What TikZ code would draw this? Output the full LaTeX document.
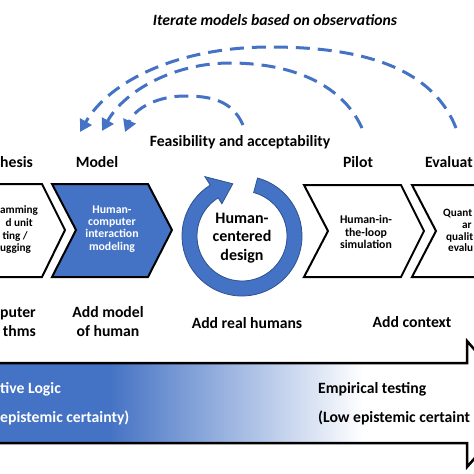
\documentclass[tikz,border=0pt]{standalone}
\usepackage{fontspec}
\setmainfont{Carlito}
\usetikzlibrary{arrows.meta,calc}
\definecolor{obl}{HTML}{4472C4}
\definecolor{obd}{HTML}{2F528F}
\pgfdeclarehorizontalshading{epi}{100bp}{color(0bp)=(obl); color(37bp)=(obl); color(64bp)=(white); color(100bp)=(white)}
\begin{document}
\begin{tikzpicture}[x=1pt,y=-1pt,
  lbl/.style={font=\fontsize{15.7}{19}\selectfont\bfseries, inner sep=0pt, text height=10.1pt, text depth=0pt},
  lbl2/.style={font=\fontsize{15.7}{19}\selectfont\bfseries, inner sep=0pt, align=center},
  small/.style={font=\fontsize{11.8}{12.2}\selectfont\bfseries, inner sep=0pt, align=center},
  smallone/.style={font=\fontsize{11.2}{12.2}\selectfont\bfseries, inner sep=0pt, text height=7pt, text depth=0pt},
  chev/.style={draw=black, line width=2pt, line join=miter},
  iter/.style={draw=obl, line width=3pt, dash pattern=on 14pt off 8pt, -{Triangle[length=12pt,width=13pt]}},
]
\useasboundingbox (0,0) rectangle (474,474);
\begin{scope}
\clip (0,0) rectangle (474,474);

% title
\node[lbl, font=\fontsize{15.7}{19}\selectfont\bfseries\itshape] (title) at (275,20) {Iterate models based on observations};

% iteration arcs
\coordinate (s1) at (456,128); \coordinate (t1) at (80,132);
\coordinate (s2) at (362,128); \coordinate (t2) at (102,131);
\coordinate (s3) at (243,125); \coordinate (t3) at (125,132);
\draw[iter] (s1) .. controls (430,62) and (350,47) .. (270,47) .. controls (180,47) and (110,80) .. (t1);
\draw[iter] (s2) .. controls (340,80) and (285,63) .. (230,63) .. controls (175,63) and (125,90) .. (t2);
\draw[iter] (s3) .. controls (232,100) and (210,96) .. (185,96) .. controls (158,96) and (135,108) .. (t3);

\node[lbl] (feas) at (240,141) {Feasibility and acceptability};

% stage labels
\node[lbl, anchor=west] (synth) at (0,162) {hesis};
\node[lbl] (model) at (97,162) {Model};
\node[lbl] (pilot) at (358,162) {Pilot};
\node[lbl, anchor=west] (evalu) at (425,162) {Evaluat};

% chevrons
\draw[chev, fill=white] (-30,184) -- (42,184) -- (65,230) -- (42,277) -- (-30,277);
\draw[chev, fill=obl] (52,184) -- (148,184) -- (172,230) -- (148,277) -- (52,277) -- (76,230) -- cycle;
\draw[chev, fill=white] (304,185) -- (401,185) -- (424,231) -- (401,277) -- (304,277) -- (328,231) -- cycle;
\draw[chev, fill=white] (412,185) -- (500,185) -- (500,277) -- (412,277) -- (436,231) -- cycle;

% chevron texts
\node[smallone, anchor=west] (c1a) at (0,210) {amming};
\node[smallone, anchor=east] (c1b) at (33,223) {d unit};
\node[smallone, anchor=east] (c1c) at (28,236) {ting /};
\node[smallone, anchor=west] (c1d) at (0,248) {ugging};
\node[small, text=white] (c2) at (112,229) {Human-\\computer\\interaction\\modeling};
\node[small] (c3) at (366,232) {Human-in-\\the-loop\\simulation};
\node[smallone, anchor=west] (c4a) at (443,213) {Quant};
\node[smallone, anchor=west] (c4b) at (462,225) {ar};
\node[smallone, anchor=west] (c4c) at (446,237) {qualit};
\node[smallone, anchor=west] (c4d) at (448,248) {evalu};

% human-centred design ring
\coordinate (C) at (242,236);
\fill[obl, draw=obd, line width=0.8pt, line join=miter]
  ($(C)+(-75:60)$) arc[start angle=-75, end angle=238, radius=60]
  -- ($(C)+(238:70)$) -- ($(C)+(260:53)$) -- ($(C)+(238:38)$) -- ($(C)+(238:45)$)
  arc[start angle=238, end angle=-75, radius=45] -- cycle;
\node[lbl2, font=\fontsize{16}{18.5}\selectfont\bfseries] (hcd) at (242,238) {Human-\\centered\\design};

% bottom labels
\node[lbl2, align=right, anchor=west] (alg) at (0,322) {puter\\thms};
\node[lbl2] (addm) at (108,322) {Add model\\of human};
\node[lbl] (addr) at (247,323) {Add real humans};
\node[lbl] (addc) at (412,322) {Add context};

% epistemic arrow
\shade[shading=epi] (-5,363) rectangle (467,443);
\draw[line width=2.5pt, line join=miter] (-5,363) -- (467,363) -- (467,341) -- (522,404) -- (467,467) -- (467,443) -- (-5,443);
\node[lbl, text=white, anchor=west] (ded) at (0,388) {tive Logic};
\node[lbl, text=white, anchor=west] (high) at (0,417) {epistemic certainty)};
\node[lbl, anchor=west] (emp) at (318,388) {Empirical testing};
\node[lbl, anchor=west] (low) at (318,417) {(Low epistemic certaint};
\end{scope}
\end{tikzpicture}
\end{document}
